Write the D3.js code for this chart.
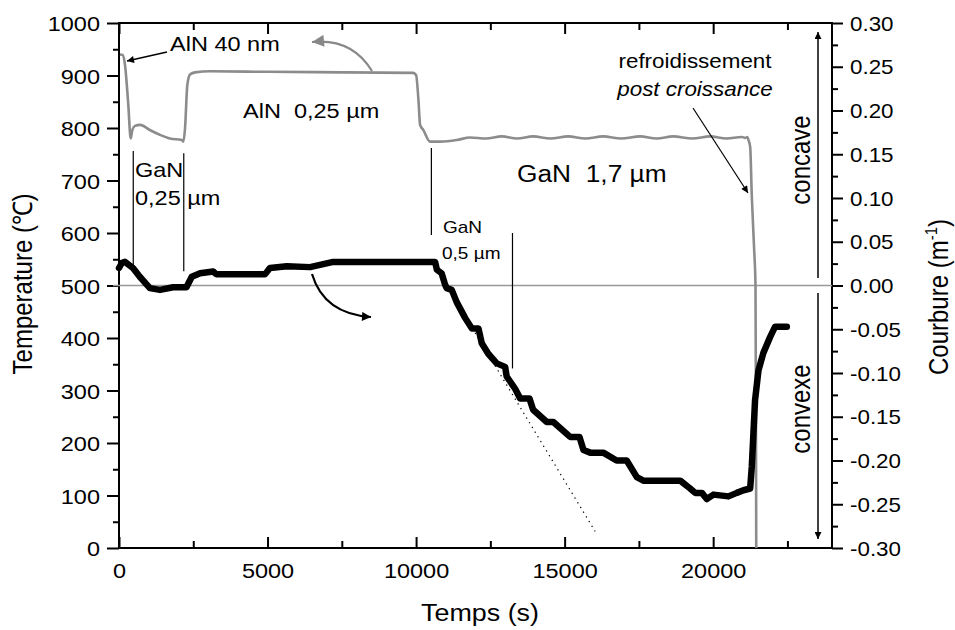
<!DOCTYPE html>
<html>
<head>
<meta charset="utf-8">
<script src="https://cdn.jsdelivr.net/npm/d3@7"></script>
<style>
  body { margin: 0; background: #fff; }
  text { font-family: "Liberation Sans", Arial, sans-serif; fill: #000; }
</style>
</head>
<body>
<script>
//DATA
// temperature (left axis, degC) against time (s)
var tempTime  = [34, 124, 202, 313, 394, 448, 539, 707, 1044, 1380, 1717, 2111, 2166, 2222, 2300, 2390, 2559, 3064, 5000, 7500, 9900,
                 10000, 10080, 10135, 10246, 10471, 10808, 11370, 11818, 12350, 12886, 13400, 13940, 14520, 15118, 15700, 16296, 16900,
                 17542, 18100, 18653, 19300, 19899, 20450, 20966, 21077, 21150, 21190, 21246, 21301, 21380, 21425, 21440, 21450];
var tempValue = [940, 939, 920, 844, 780, 796, 804, 806, 796, 787, 780, 777, 774, 799, 882, 902, 906, 908, 907, 906, 905,
                 901, 853, 806, 796, 774, 774, 777, 782, 780, 784, 780, 784, 780, 784, 780, 784, 780,
                 784, 780, 784, 780, 784, 780, 783, 781, 783, 777, 764, 669, 568, 500, 250, 0];
// curvature (right axis, 1/m) against time (s)
var curvTime  = [0, 100, 200, 470, 700, 1040, 1380, 1820, 2270, 2450, 2730, 3170, 3270, 4920, 5080, 5650, 6430, 7210, 8330, 10640,
                 10700, 10860, 10976, 11030, 11200, 11367, 11650, 11875, 12100, 12210, 12430, 12715, 12997, 13050, 13333, 13502,
                 13815, 13940, 14400, 14620, 15185, 15500, 15635, 15860, 16300, 16750, 17090, 17430, 17650, 18890, 19225, 19395,
                 19620, 19785, 20010, 20515, 20795, 21020, 21245, 21300, 21410, 21525, 21690, 21915, 22085, 22480];
var curvValue = [0.020, 0.026, 0.027, 0.020, 0.010, -0.003, -0.005, -0.002, -0.002, 0.010, 0.014, 0.016, 0.013, 0.013, 0.020, 0.022, 0.021, 0.027, 0.027, 0.027,
                 0.018, 0.014, 0.001, -0.003, -0.005, -0.019, -0.037, -0.049, -0.049, -0.066, -0.078, -0.089, -0.093, -0.104, -0.118, -0.129,
                 -0.129, -0.142, -0.156, -0.156, -0.173, -0.173, -0.188, -0.191, -0.191, -0.200, -0.200, -0.219, -0.223, -0.223, -0.232, -0.237,
                 -0.237, -0.244, -0.239, -0.241, -0.237, -0.234, -0.232, -0.207, -0.131, -0.097, -0.077, -0.059, -0.047, -0.047];
// tangent drawn dotted on the curvature decrease
var tangentTime  = [11987, 16027];
var tangentValue = [-0.054, -0.281];
// layer boundaries (time, bottom temp, top temp)
var markTime = [480, 2180, 10515, 13245];
var markLow  = [537, 527, 596, 342];
var markHigh = [756, 752, 762, 600];

var timeTicks  = [0, 5000, 10000, 15000, 20000];
var timeMinor  = [2500, 7500, 12500, 17500, 22500];
var tempTicks  = [0, 100, 200, 300, 400, 500, 600, 700, 800, 900, 1000];
var tempMinor  = [50, 150, 250, 350, 450, 550, 650, 750, 850, 950];
var curvTicks  = [-0.30, -0.25, -0.20, -0.15, -0.10, -0.05, 0.00, 0.05, 0.10, 0.15, 0.20, 0.25, 0.30];
var curvMinor  = [-0.275, -0.225, -0.175, -0.125, -0.075, -0.025, 0.025, 0.075, 0.125, 0.175, 0.225, 0.275];

//SVG VARIABLES
var width = 955, height = 630;
var plotLeft = 119, plotRight = 832, plotTop = 23, plotBottom = 548;
var SX = 1.12; // glyphs in the picture are a bit wider than tall

var svg = d3.select("body").append("svg").attr("width", width).attr("height", height);

var defs = svg.append("defs");
function marker(id, color, w, h) {
  defs.append("marker").attr("id", id)
      .attr("viewBox", "0 0 10 10").attr("refX", 10).attr("refY", 5)
      .attr("markerWidth", w).attr("markerHeight", h)
      .attr("markerUnits", "userSpaceOnUse").attr("orient", "auto")
      .append("path").attr("d", "M0,0L10,5L0,10z").attr("fill", color);
}
marker("headBlack", "#000", 13, 9);
marker("headGrey", "#888", 13, 12);
marker("headThin", "#000", 14, 7);
marker("headSmall", "#000", 11, 7);

//SCALES
var x  = d3.scaleLinear().domain([0, 24000]).range([plotLeft, plotRight]);
var yT = d3.scaleLinear().domain([0, 1000]).range([plotBottom, plotTop]);
var yC = d3.scaleLinear().domain([-0.3, 0.3]).range([plotBottom, plotTop]);

//AXES
function styleAxis(g) {
  g.select(".domain").remove();
  g.selectAll("line").attr("stroke", "#000").attr("stroke-width", 2);
}
svg.append("g").attr("transform", "translate(" + plotLeft + ",0)")
   .call(d3.axisLeft(yT).tickValues(tempTicks).tickSize(12).tickSizeOuter(0).tickFormat(d3.format("d")))
   .call(styleAxis)
   .call(function (g) {
     g.selectAll("text").attr("x", null).attr("dy", null).attr("text-anchor", "end")
      .attr("font-size", 21).attr("transform", "translate(-19,7.5) scale(" + SX + ",1)");
   });
svg.append("g").attr("transform", "translate(" + plotLeft + ",0)")
   .call(d3.axisLeft(yT).tickValues(tempMinor).tickSize(6).tickFormat(""))
   .call(styleAxis);

svg.append("g").attr("transform", "translate(0," + plotBottom + ")")
   .call(d3.axisBottom(x).tickValues(timeTicks).tickSize(-11).tickSizeOuter(0).tickFormat(d3.format("d")))
   .call(styleAxis)
   .call(function (g) {
     g.selectAll("text").attr("y", null).attr("dy", null).attr("text-anchor", "middle")
      .attr("font-size", 21).attr("transform", "translate(0,30) scale(" + SX + ",1)");
   });
svg.append("g").attr("transform", "translate(0," + plotBottom + ")")
   .call(d3.axisBottom(x).tickValues(timeMinor).tickSize(-7).tickFormat(""))
   .call(styleAxis);
svg.append("g").attr("transform", "translate(0," + plotTop + ")")
   .call(d3.axisTop(x).tickValues(timeTicks).tickSize(-11).tickFormat(""))
   .call(styleAxis);
svg.append("g").attr("transform", "translate(0," + plotTop + ")")
   .call(d3.axisTop(x).tickValues(timeMinor).tickSize(-7).tickFormat(""))
   .call(styleAxis);

svg.append("g").attr("transform", "translate(" + plotRight + ",0)")
   .call(d3.axisRight(yC).tickValues(curvTicks).tickSize(11).tickSizeOuter(0)
          .tickFormat(function (d) { return d3.format(".2f")(d).replace("\u2212", "-"); }))
   .call(styleAxis)
   .call(function (g) {
     g.selectAll("text").attr("x", null).attr("dy", null).attr("text-anchor", "start")
      .attr("font-size", 20).attr("transform", "translate(18,7) scale(" + SX + ",1)");
   });
svg.append("g").attr("transform", "translate(" + plotRight + ",0)")
   .call(d3.axisRight(yC).tickValues(curvMinor).tickSize(6).tickFormat(""))
   .call(styleAxis);

// frame
svg.append("rect").attr("x", plotLeft).attr("y", plotTop)
   .attr("width", plotRight - plotLeft).attr("height", plotBottom - plotTop)
   .attr("fill", "none").attr("stroke", "#000").attr("stroke-width", 2);

// zero curvature line
svg.append("line").attr("x1", plotLeft - 6).attr("x2", plotRight)
   .attr("y1", yC(0)).attr("y2", yC(0)).attr("stroke", "#999").attr("stroke-width", 1.4);

//LINES
var tempLine = d3.line().x(function (d, i) { return x(tempTime[i]); })
                        .y(function (d) { return yT(d); }).curve(d3.curveMonotoneX);
svg.append("path").attr("d", tempLine(tempValue))
   .attr("fill", "none").attr("stroke", "#8c8c8c").attr("stroke-width", 2.6).attr("stroke-linejoin", "round");

var curvLine = d3.line().x(function (d, i) { return x(curvTime[i]); })
                        .y(function (d) { return yC(d); });
svg.append("path").attr("d", curvLine(curvValue))
   .attr("fill", "none").attr("stroke", "#000").attr("stroke-width", 6.5)
   .attr("stroke-linejoin", "round").attr("stroke-linecap", "round");

var tangentLine = d3.line().x(function (d, i) { return x(tangentTime[i]); })
                           .y(function (d) { return yC(d); });
svg.append("path").attr("d", tangentLine(tangentValue))
   .attr("fill", "none").attr("stroke", "#000").attr("stroke-width", 1.2).attr("stroke-dasharray", "1.3,4.2");

// layer boundaries
svg.selectAll(".mark").data(markTime).enter().append("line").attr("class", "mark")
   .attr("x1", function (d) { return x(d); }).attr("x2", function (d) { return x(d); })
   .attr("y1", function (d, i) { return yT(markLow[i]); })
   .attr("y2", function (d, i) { return yT(markHigh[i]); })
   .attr("stroke", "#000").attr("stroke-width", 1.2);

//ANNOTATIONS
function label(px, py, str, size, opts) {
  opts = opts || {};
  var t = svg.append("text")
     .attr("transform", "translate(" + px + "," + py + ") scale(" + SX + ",1)" + (opts.rotate ? " rotate(-90)" : ""))
     .attr("font-size", size).attr("text-anchor", opts.anchor || "start");
  if (opts.italic) t.attr("font-style", "italic");
  t.text(str);
  return t;
}
label(170, 51, "AlN 40 nm", 21);
label(243, 118, "AlN \u00a00,25 \u00b5m", 21);
label(135, 177, "GaN", 21);
label(135, 205, "0,25 \u00b5m", 21);
label(517, 182, "GaN \u00a01,7 \u00b5m", 23.5);
label(443, 233, "GaN", 17);
label(442, 259, "0,5 \u00b5m", 17);
label(695, 68, "refroidissement", 20, { anchor: "middle" });
label(695, 96, "post croissance", 20, { anchor: "middle", italic: true });
label(810, 160, "concave", 24, { anchor: "middle", rotate: true });
label(810, 409, "convexe", 24, { anchor: "middle", rotate: true });
label(32, 284, "Temperature (\u2103)", 24, { anchor: "middle", rotate: true });
label(480, 621, "Temps (s)", 24, { anchor: "middle" });
var cb = label(948, 297, "Courbure (m", 24, { anchor: "middle", rotate: true });
cb.append("tspan").attr("font-size", 15).attr("dy", -10).text("-1");
cb.append("tspan").attr("dy", 10).text(")");

// arrows
svg.append("line").attr("x1", 167).attr("y1", 52).attr("x2", 127).attr("y2", 61)
   .attr("stroke", "#000").attr("stroke-width", 1.3).attr("marker-end", "url(#headSmall)");
svg.append("path").attr("d", "M372,71 Q352,38 312,42")
   .attr("fill", "none").attr("stroke", "#888").attr("stroke-width", 2.2).attr("marker-end", "url(#headGrey)");
svg.append("path").attr("d", "M312,274 Q324,314 371,317")
   .attr("fill", "none").attr("stroke", "#000").attr("stroke-width", 2.2).attr("marker-end", "url(#headBlack)");
svg.append("line").attr("x1", 693).attr("y1", 108).attr("x2", 748).attr("y2", 193)
   .attr("stroke", "#000").attr("stroke-width", 1.2).attr("marker-end", "url(#headSmall)");
svg.append("line").attr("x1", 818).attr("y1", 278).attr("x2", 818).attr("y2", 32)
   .attr("stroke", "#000").attr("stroke-width", 1.5).attr("marker-end", "url(#headThin)");
svg.append("line").attr("x1", 818).attr("y1", 293).attr("x2", 818).attr("y2", 539)
   .attr("stroke", "#000").attr("stroke-width", 1.5).attr("marker-end", "url(#headThin)");
</script>
</body>
</html>
